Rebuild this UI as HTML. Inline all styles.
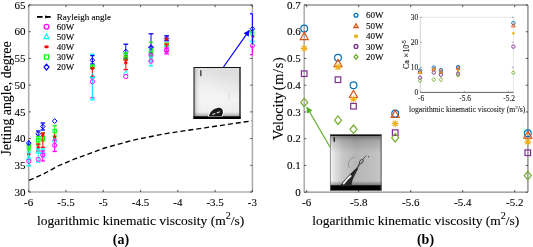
<!DOCTYPE html>
<html><head><meta charset="utf-8"><style>
html,body{margin:0;padding:0;background:#fff;width:533px;height:247px;overflow:hidden;position:relative}
</style></head><body>
<svg width="533" height="247" viewBox="0 0 533 247" style="position:absolute;left:0;top:0;font-family:'Liberation Serif', serif;will-change:transform">
<rect width="533" height="247" fill="#fff"/>
<line x1="28.7" y1="5.0" x2="252.4" y2="5.0" stroke="#606060" stroke-width="1.15"/>
<line x1="28.7" y1="192.0" x2="252.4" y2="192.0" stroke="#8a8a8a" stroke-width="1.2"/>
<line x1="28.7" y1="5.0" x2="28.7" y2="192.0" stroke="#aaa" stroke-width="1.5"/>
<line x1="252.4" y1="5.0" x2="252.4" y2="192.0" stroke="#aaa" stroke-width="1.5"/>
<line x1="28.7" y1="192.00" x2="30.9" y2="192.00" stroke="#333" stroke-width="0.8"/>
<line x1="250.20000000000002" y1="192.00" x2="252.4" y2="192.00" stroke="#333" stroke-width="0.8"/>
<text x="25.4" y="195.7" font-size="11" text-anchor="end" fill="#000" stroke="#000" stroke-width="0.1" >30</text>
<line x1="28.7" y1="165.29" x2="30.9" y2="165.29" stroke="#333" stroke-width="0.8"/>
<line x1="250.20000000000002" y1="165.29" x2="252.4" y2="165.29" stroke="#333" stroke-width="0.8"/>
<text x="25.4" y="168.98571428571427" font-size="11" text-anchor="end" fill="#000" stroke="#000" stroke-width="0.1" >35</text>
<line x1="28.7" y1="138.57" x2="30.9" y2="138.57" stroke="#333" stroke-width="0.8"/>
<line x1="250.20000000000002" y1="138.57" x2="252.4" y2="138.57" stroke="#333" stroke-width="0.8"/>
<text x="25.4" y="142.27142857142857" font-size="11" text-anchor="end" fill="#000" stroke="#000" stroke-width="0.1" >40</text>
<line x1="28.7" y1="111.86" x2="30.9" y2="111.86" stroke="#333" stroke-width="0.8"/>
<line x1="250.20000000000002" y1="111.86" x2="252.4" y2="111.86" stroke="#333" stroke-width="0.8"/>
<text x="25.4" y="115.55714285714286" font-size="11" text-anchor="end" fill="#000" stroke="#000" stroke-width="0.1" >45</text>
<line x1="28.7" y1="85.14" x2="30.9" y2="85.14" stroke="#333" stroke-width="0.8"/>
<line x1="250.20000000000002" y1="85.14" x2="252.4" y2="85.14" stroke="#333" stroke-width="0.8"/>
<text x="25.4" y="88.84285714285714" font-size="11" text-anchor="end" fill="#000" stroke="#000" stroke-width="0.1" >50</text>
<line x1="28.7" y1="58.43" x2="30.9" y2="58.43" stroke="#333" stroke-width="0.8"/>
<line x1="250.20000000000002" y1="58.43" x2="252.4" y2="58.43" stroke="#333" stroke-width="0.8"/>
<text x="25.4" y="62.12857142857143" font-size="11" text-anchor="end" fill="#000" stroke="#000" stroke-width="0.1" >55</text>
<line x1="28.7" y1="31.71" x2="30.9" y2="31.71" stroke="#333" stroke-width="0.8"/>
<line x1="250.20000000000002" y1="31.71" x2="252.4" y2="31.71" stroke="#333" stroke-width="0.8"/>
<text x="25.4" y="35.41428571428572" font-size="11" text-anchor="end" fill="#000" stroke="#000" stroke-width="0.1" >60</text>
<line x1="28.7" y1="5.00" x2="30.9" y2="5.00" stroke="#333" stroke-width="0.8"/>
<line x1="250.20000000000002" y1="5.00" x2="252.4" y2="5.00" stroke="#333" stroke-width="0.8"/>
<text x="25.4" y="8.7" font-size="11" text-anchor="end" fill="#000" stroke="#000" stroke-width="0.1" >65</text>
<line x1="28.70" y1="192.0" x2="28.70" y2="189.8" stroke="#333" stroke-width="0.8"/>
<line x1="28.70" y1="5.0" x2="28.70" y2="7.2" stroke="#333" stroke-width="0.8"/>
<text x="28.7" y="206.3" font-size="11" text-anchor="middle" fill="#000" stroke="#000" stroke-width="0.1" >-6</text>
<line x1="65.98" y1="192.0" x2="65.98" y2="189.8" stroke="#333" stroke-width="0.8"/>
<line x1="65.98" y1="5.0" x2="65.98" y2="7.2" stroke="#333" stroke-width="0.8"/>
<text x="65.98" y="206.3" font-size="11" text-anchor="middle" fill="#000" stroke="#000" stroke-width="0.1" >-5.5</text>
<line x1="103.27" y1="192.0" x2="103.27" y2="189.8" stroke="#333" stroke-width="0.8"/>
<line x1="103.27" y1="5.0" x2="103.27" y2="7.2" stroke="#333" stroke-width="0.8"/>
<text x="103.27" y="206.3" font-size="11" text-anchor="middle" fill="#000" stroke="#000" stroke-width="0.1" >-5</text>
<line x1="140.55" y1="192.0" x2="140.55" y2="189.8" stroke="#333" stroke-width="0.8"/>
<line x1="140.55" y1="5.0" x2="140.55" y2="7.2" stroke="#333" stroke-width="0.8"/>
<text x="140.55" y="206.3" font-size="11" text-anchor="middle" fill="#000" stroke="#000" stroke-width="0.1" >-4.5</text>
<line x1="177.83" y1="192.0" x2="177.83" y2="189.8" stroke="#333" stroke-width="0.8"/>
<line x1="177.83" y1="5.0" x2="177.83" y2="7.2" stroke="#333" stroke-width="0.8"/>
<text x="177.83" y="206.3" font-size="11" text-anchor="middle" fill="#000" stroke="#000" stroke-width="0.1" >-4</text>
<line x1="215.12" y1="192.0" x2="215.12" y2="189.8" stroke="#333" stroke-width="0.8"/>
<line x1="215.12" y1="5.0" x2="215.12" y2="7.2" stroke="#333" stroke-width="0.8"/>
<text x="215.12" y="206.3" font-size="11" text-anchor="middle" fill="#000" stroke="#000" stroke-width="0.1" >-3.5</text>
<line x1="252.40" y1="192.0" x2="252.40" y2="189.8" stroke="#333" stroke-width="0.8"/>
<line x1="252.40" y1="5.0" x2="252.40" y2="7.2" stroke="#333" stroke-width="0.8"/>
<text x="252.4" y="206.3" font-size="11" text-anchor="middle" fill="#000" stroke="#000" stroke-width="0.1" >-3</text>
<text x="37.1" y="225" font-size="13.5" text-anchor="start" fill="#000" stroke="#000" stroke-width="0.1" >logarithmic kinematic viscosity (m<tspan font-size="10" dy="-6">2</tspan><tspan dy="6">/s)</tspan></text>
<text x="121" y="243.6" font-size="14" text-anchor="middle" fill="#000" stroke="#000" stroke-width="0.1" font-weight="bold" style="stroke-width:0">(a)</text>
<text transform="translate(10.6,155.6) rotate(-90)" font-size="13.85" stroke="#000" stroke-width="0.1">Jetting angle, degree</text>
<path d="M29,180.3 L43,174.3 L58,166 L76,158.5 L104.6,148 L134.5,139.8 L167.5,133.3 L205,127.8 L252,120.8" fill="none" stroke="#000" stroke-width="1.35" stroke-dasharray="5 3"/>
<line x1="28.8" y1="144" x2="28.8" y2="150" stroke="#00ff00" stroke-width="1.0"/>
<line x1="26.8" y1="144" x2="30.8" y2="144" stroke="#00ff00" stroke-width="1.3"/>
<line x1="26.8" y1="150" x2="30.8" y2="150" stroke="#00ff00" stroke-width="1.3"/>
<rect x="27.10" y="144.80" width="3.4" height="3.4" fill="none" stroke="#00ff00" stroke-width="1.0"/>
<line x1="28.8" y1="140.5" x2="28.8" y2="145.5" stroke="#0000ff" stroke-width="1.0"/>
<line x1="28.8" y1="140.5" x2="28.8" y2="140.5" stroke="#0000ff" stroke-width="1.3"/>
<line x1="28.8" y1="145.5" x2="28.8" y2="145.5" stroke="#0000ff" stroke-width="1.3"/>
<polygon points="28.80,140.60 31.10,143.10 28.80,145.60 26.50,143.10" fill="none" stroke="#0000ff" stroke-width="1.0"/>
<line x1="28.8" y1="151" x2="28.8" y2="157" stroke="#ff0000" stroke-width="1.0"/>
<line x1="28.8" y1="151" x2="28.8" y2="151" stroke="#ff0000" stroke-width="1.3"/>
<line x1="28.8" y1="157" x2="28.8" y2="157" stroke="#ff0000" stroke-width="1.3"/>
<circle cx="28.80" cy="154.30" r="1.7" fill="#ff0000"/>
<line x1="28.8" y1="152" x2="28.8" y2="165.8" stroke="#00ffff" stroke-width="1.0"/>
<line x1="26.6" y1="152" x2="31.0" y2="152" stroke="#00ffff" stroke-width="1.3"/>
<line x1="26.6" y1="165.8" x2="31.0" y2="165.8" stroke="#00ffff" stroke-width="1.3"/>
<polygon points="28.80,155.32 31.10,159.46 26.50,159.46" fill="none" stroke="#00ffff" stroke-width="1.0" stroke-linejoin="miter"/>
<circle cx="28.80" cy="161.20" r="2.1" fill="none" stroke="#ff00ff" stroke-width="1.0"/>
<line x1="38.2" y1="131" x2="38.2" y2="136.5" stroke="#0000ff" stroke-width="1.0"/>
<line x1="36.0" y1="131" x2="40.400000000000006" y2="131" stroke="#0000ff" stroke-width="1.3"/>
<line x1="36.0" y1="136.5" x2="40.400000000000006" y2="136.5" stroke="#0000ff" stroke-width="1.3"/>
<polygon points="38.20,131.30 40.50,133.80 38.20,136.30 35.90,133.80" fill="none" stroke="#0000ff" stroke-width="1.0"/>
<line x1="38.2" y1="136.5" x2="38.2" y2="145" stroke="#00ff00" stroke-width="1.0"/>
<line x1="36.0" y1="136.5" x2="40.400000000000006" y2="136.5" stroke="#00ff00" stroke-width="1.3"/>
<line x1="36.0" y1="145" x2="40.400000000000006" y2="145" stroke="#00ff00" stroke-width="1.3"/>
<rect x="36.50" y="138.70" width="3.4" height="3.4" fill="none" stroke="#00ff00" stroke-width="1.0"/>
<line x1="38.2" y1="144" x2="38.2" y2="151" stroke="#ff0000" stroke-width="1.0"/>
<line x1="36.0" y1="144" x2="40.400000000000006" y2="144" stroke="#ff0000" stroke-width="1.3"/>
<line x1="36.0" y1="151" x2="40.400000000000006" y2="151" stroke="#ff0000" stroke-width="1.3"/>
<circle cx="38.20" cy="147.70" r="1.7" fill="#ff0000"/>
<line x1="38.2" y1="149" x2="38.2" y2="162" stroke="#00ffff" stroke-width="1.0"/>
<line x1="36.0" y1="149" x2="40.400000000000006" y2="149" stroke="#00ffff" stroke-width="1.3"/>
<line x1="36.0" y1="162" x2="40.400000000000006" y2="162" stroke="#00ffff" stroke-width="1.3"/>
<polygon points="38.20,149.02 40.50,153.16 35.90,153.16" fill="none" stroke="#00ffff" stroke-width="1.0" stroke-linejoin="miter"/>
<circle cx="38.20" cy="159.30" r="2.1" fill="none" stroke="#ff00ff" stroke-width="1.0"/>
<line x1="42.8" y1="123" x2="42.8" y2="130" stroke="#0000ff" stroke-width="1.0"/>
<line x1="40.599999999999994" y1="123" x2="45.0" y2="123" stroke="#0000ff" stroke-width="1.3"/>
<line x1="40.599999999999994" y1="130" x2="45.0" y2="130" stroke="#0000ff" stroke-width="1.3"/>
<polygon points="42.80,124.00 45.10,126.50 42.80,129.00 40.50,126.50" fill="none" stroke="#0000ff" stroke-width="1.0"/>
<line x1="42.8" y1="133" x2="42.8" y2="141" stroke="#00ff00" stroke-width="1.0"/>
<line x1="40.8" y1="133" x2="44.8" y2="133" stroke="#00ff00" stroke-width="1.3"/>
<line x1="40.8" y1="141" x2="44.8" y2="141" stroke="#00ff00" stroke-width="1.3"/>
<rect x="41.10" y="136.30" width="3.4" height="3.4" fill="none" stroke="#00ff00" stroke-width="1.0"/>
<line x1="42.8" y1="133" x2="42.8" y2="147.3" stroke="#ff0000" stroke-width="1.0"/>
<line x1="40.599999999999994" y1="133" x2="45.0" y2="133" stroke="#ff0000" stroke-width="1.3"/>
<line x1="40.599999999999994" y1="147.3" x2="45.0" y2="147.3" stroke="#ff0000" stroke-width="1.3"/>
<circle cx="42.80" cy="135.00" r="1.7" fill="#ff0000"/>
<line x1="42.8" y1="149" x2="42.8" y2="157" stroke="#00ffff" stroke-width="1.0"/>
<line x1="40.8" y1="149" x2="44.8" y2="149" stroke="#00ffff" stroke-width="1.3"/>
<line x1="40.8" y1="157" x2="44.8" y2="157" stroke="#00ffff" stroke-width="1.3"/>
<polygon points="42.80,149.52 45.10,153.66 40.50,153.66" fill="none" stroke="#00ffff" stroke-width="1.0" stroke-linejoin="miter"/>
<line x1="42.8" y1="151" x2="42.8" y2="161" stroke="#ff00ff" stroke-width="1.0"/>
<line x1="40.599999999999994" y1="151" x2="45.0" y2="151" stroke="#ff00ff" stroke-width="1.3"/>
<line x1="40.599999999999994" y1="161" x2="45.0" y2="161" stroke="#ff00ff" stroke-width="1.3"/>
<circle cx="42.80" cy="155.00" r="2.1" fill="none" stroke="#ff00ff" stroke-width="1.0"/>
<polygon points="54.70,118.60 57.00,121.10 54.70,123.60 52.40,121.10" fill="none" stroke="#0000ff" stroke-width="1.0"/>
<line x1="54.7" y1="125.7" x2="54.7" y2="136" stroke="#00ff00" stroke-width="1.0"/>
<line x1="52.5" y1="125.7" x2="56.900000000000006" y2="125.7" stroke="#00ff00" stroke-width="1.3"/>
<line x1="52.5" y1="136" x2="56.900000000000006" y2="136" stroke="#00ff00" stroke-width="1.3"/>
<rect x="53.00" y="129.40" width="3.4" height="3.4" fill="none" stroke="#00ff00" stroke-width="1.0"/>
<line x1="54.7" y1="134" x2="54.7" y2="142" stroke="#ff0000" stroke-width="1.0"/>
<line x1="54.7" y1="134" x2="54.7" y2="134" stroke="#ff0000" stroke-width="1.3"/>
<line x1="54.7" y1="142" x2="54.7" y2="142" stroke="#ff0000" stroke-width="1.3"/>
<circle cx="54.70" cy="137.50" r="1.7" fill="#ff0000"/>
<polygon points="54.70,137.92 57.00,142.06 52.40,142.06" fill="none" stroke="#00ffff" stroke-width="1.0" stroke-linejoin="miter"/>
<line x1="54.7" y1="140" x2="54.7" y2="151.5" stroke="#ff00ff" stroke-width="1.0"/>
<line x1="52.5" y1="140" x2="56.900000000000006" y2="140" stroke="#ff00ff" stroke-width="1.3"/>
<line x1="52.5" y1="151.5" x2="56.900000000000006" y2="151.5" stroke="#ff00ff" stroke-width="1.3"/>
<circle cx="54.70" cy="145.40" r="2.1" fill="none" stroke="#ff00ff" stroke-width="1.0"/>
<line x1="92.4" y1="78" x2="92.4" y2="97.8" stroke="#ff00ff" stroke-width="1.0"/>
<line x1="90.2" y1="78" x2="94.60000000000001" y2="78" stroke="#ff00ff" stroke-width="1.3"/>
<line x1="90.2" y1="97.8" x2="94.60000000000001" y2="97.8" stroke="#ff00ff" stroke-width="1.3"/>
<line x1="92.4" y1="54.2" x2="92.4" y2="99.8" stroke="#00ffff" stroke-width="1.0"/>
<line x1="90.2" y1="54.2" x2="94.60000000000001" y2="54.2" stroke="#00ffff" stroke-width="1.3"/>
<line x1="90.2" y1="99.8" x2="94.60000000000001" y2="99.8" stroke="#00ffff" stroke-width="1.3"/>
<line x1="92.4" y1="55.6" x2="92.4" y2="64" stroke="#0000ff" stroke-width="1.0"/>
<line x1="90.2" y1="55.6" x2="94.60000000000001" y2="55.6" stroke="#0000ff" stroke-width="1.3"/>
<line x1="90.2" y1="64" x2="94.60000000000001" y2="64" stroke="#0000ff" stroke-width="1.3"/>
<polygon points="92.40,57.80 94.70,60.30 92.40,62.80 90.10,60.30" fill="none" stroke="#0000ff" stroke-width="1.0"/>
<line x1="92.4" y1="65" x2="92.4" y2="69" stroke="#00ff00" stroke-width="1.0"/>
<line x1="90.60000000000001" y1="65" x2="94.2" y2="65" stroke="#00ff00" stroke-width="1.3"/>
<line x1="90.60000000000001" y1="69" x2="94.2" y2="69" stroke="#00ff00" stroke-width="1.3"/>
<rect x="90.70" y="65.30" width="3.4" height="3.4" fill="none" stroke="#00ff00" stroke-width="1.0"/>
<circle cx="92.40" cy="68.30" r="1.7" fill="#ff0000"/>
<line x1="92.4" y1="68" x2="92.4" y2="76.6" stroke="#ff0000" stroke-width="1.0"/>
<line x1="90.2" y1="68" x2="94.60000000000001" y2="68" stroke="#ff0000" stroke-width="1.3"/>
<line x1="90.2" y1="76.6" x2="94.60000000000001" y2="76.6" stroke="#ff0000" stroke-width="1.3"/>
<polygon points="92.40,73.52 94.70,77.66 90.10,77.66" fill="none" stroke="#00ffff" stroke-width="1.0" stroke-linejoin="miter"/>
<circle cx="92.40" cy="81.60" r="2.1" fill="none" stroke="#ff00ff" stroke-width="1.0"/>
<line x1="125.8" y1="44.2" x2="125.8" y2="58.5" stroke="#0000ff" stroke-width="1.0"/>
<line x1="123.39999999999999" y1="44.2" x2="128.2" y2="44.2" stroke="#0000ff" stroke-width="1.3"/>
<line x1="123.39999999999999" y1="58.5" x2="128.2" y2="58.5" stroke="#0000ff" stroke-width="1.3"/>
<polygon points="125.80,49.10 128.10,51.60 125.80,54.10 123.50,51.60" fill="none" stroke="#0000ff" stroke-width="1.0"/>
<rect x="124.10" y="52.80" width="3.4" height="3.4" fill="none" stroke="#00ff00" stroke-width="1.0"/>
<circle cx="125.80" cy="56.50" r="1.7" fill="#ff0000"/>
<line x1="125.8" y1="53" x2="125.8" y2="60" stroke="#00ff00" stroke-width="1.0"/>
<line x1="123.8" y1="53" x2="127.8" y2="53" stroke="#00ff00" stroke-width="1.3"/>
<line x1="123.8" y1="60" x2="127.8" y2="60" stroke="#00ff00" stroke-width="1.3"/>
<rect x="124.10" y="56.30" width="3.4" height="3.4" fill="none" stroke="#00ff00" stroke-width="1.0"/>
<line x1="125.8" y1="60" x2="125.8" y2="69.6" stroke="#ff0000" stroke-width="1.0"/>
<line x1="123.6" y1="60" x2="128.0" y2="60" stroke="#ff0000" stroke-width="1.3"/>
<line x1="123.6" y1="69.6" x2="128.0" y2="69.6" stroke="#ff0000" stroke-width="1.3"/>
<circle cx="125.80" cy="62.70" r="1.7" fill="#ff0000"/>
<polygon points="125.80,70.52 128.10,74.66 123.50,74.66" fill="none" stroke="#00ffff" stroke-width="1.0" stroke-linejoin="miter"/>
<circle cx="125.80" cy="76.50" r="2.1" fill="none" stroke="#ff00ff" stroke-width="1.0"/>
<line x1="151" y1="33.8" x2="151" y2="47" stroke="#0000ff" stroke-width="1.0"/>
<line x1="148.6" y1="33.8" x2="153.4" y2="33.8" stroke="#0000ff" stroke-width="1.3"/>
<line x1="148.6" y1="47" x2="153.4" y2="47" stroke="#0000ff" stroke-width="1.3"/>
<line x1="149" y1="42.2" x2="153" y2="42.2" stroke="#00ff00" stroke-width="1.3"/>
<polygon points="151.00,44.80 153.30,47.30 151.00,49.80 148.70,47.30" fill="none" stroke="#0000ff" stroke-width="1.0"/>
<rect x="149.30" y="48.80" width="3.4" height="3.4" fill="none" stroke="#00ff00" stroke-width="1.0"/>
<line x1="151" y1="48" x2="151" y2="56" stroke="#0000ff" stroke-width="1.0"/>
<line x1="151" y1="48" x2="151" y2="48" stroke="#0000ff" stroke-width="1.3"/>
<line x1="151" y1="56" x2="151" y2="56" stroke="#0000ff" stroke-width="1.3"/>
<rect x="149.30" y="51.80" width="3.4" height="3.4" fill="none" stroke="#00ff00" stroke-width="1.0"/>
<circle cx="151.00" cy="55.00" r="2.1" fill="none" stroke="#ff00ff" stroke-width="1.0"/>
<circle cx="151.00" cy="57.40" r="1.7" fill="#ff0000"/>
<line x1="151" y1="57" x2="151" y2="65.8" stroke="#00ffff" stroke-width="1.0"/>
<line x1="148.8" y1="57" x2="153.2" y2="57" stroke="#00ffff" stroke-width="1.3"/>
<line x1="148.8" y1="65.8" x2="153.2" y2="65.8" stroke="#00ffff" stroke-width="1.3"/>
<polygon points="151.00,57.22 153.30,61.36 148.70,61.36" fill="none" stroke="#00ffff" stroke-width="1.0" stroke-linejoin="miter"/>
<circle cx="151.00" cy="61.20" r="2.1" fill="none" stroke="#ff00ff" stroke-width="1.0"/>
<line x1="166.6" y1="35.8" x2="166.6" y2="40.8" stroke="#0000ff" stroke-width="1.0"/>
<line x1="164.2" y1="35.8" x2="169.0" y2="35.8" stroke="#0000ff" stroke-width="1.3"/>
<line x1="164.2" y1="40.8" x2="169.0" y2="40.8" stroke="#0000ff" stroke-width="1.3"/>
<polygon points="166.60,36.00 168.90,38.50 166.60,41.00 164.30,38.50" fill="none" stroke="#0000ff" stroke-width="1.0"/>
<circle cx="166.60" cy="39.00" r="1.7" fill="#ff0000"/>
<rect x="164.90" y="42.90" width="3.4" height="3.4" fill="none" stroke="#00ff00" stroke-width="1.0"/>
<circle cx="166.60" cy="46.00" r="1.7" fill="#ff0000"/>
<line x1="166.6" y1="46" x2="166.6" y2="50" stroke="#00ffff" stroke-width="1.0"/>
<line x1="164.6" y1="46" x2="168.6" y2="46" stroke="#00ffff" stroke-width="1.3"/>
<line x1="164.6" y1="50" x2="168.6" y2="50" stroke="#00ffff" stroke-width="1.3"/>
<polygon points="166.60,46.02 168.90,50.16 164.30,50.16" fill="none" stroke="#00ffff" stroke-width="1.0" stroke-linejoin="miter"/>
<line x1="166.6" y1="44" x2="166.6" y2="51.6" stroke="#ff0000" stroke-width="1.0"/>
<line x1="164.4" y1="44" x2="168.79999999999998" y2="44" stroke="#ff0000" stroke-width="1.3"/>
<line x1="164.4" y1="51.6" x2="168.79999999999998" y2="51.6" stroke="#ff0000" stroke-width="1.3"/>
<line x1="166.6" y1="48" x2="166.6" y2="53.9" stroke="#ff00ff" stroke-width="1.0"/>
<line x1="164.2" y1="48" x2="169.0" y2="48" stroke="#ff00ff" stroke-width="1.3"/>
<line x1="164.2" y1="53.9" x2="169.0" y2="53.9" stroke="#ff00ff" stroke-width="1.3"/>
<circle cx="166.60" cy="50.50" r="2.1" fill="none" stroke="#ff00ff" stroke-width="1.0"/>
<rect x="251.00" y="29.80" width="2.8" height="2.8" fill="none" stroke="#00ff00" stroke-width="0.9"/>
<rect x="251.00" y="32.80" width="2.8" height="2.8" fill="none" stroke="#00ff00" stroke-width="0.9"/>
<circle cx="253.00" cy="36.60" r="1.4" fill="#ff0000"/>
<polygon points="252.40,38.24 254.40,41.84 250.40,41.84" fill="none" stroke="#00ffff" stroke-width="1.0" stroke-linejoin="miter"/>
<circle cx="252.40" cy="45.60" r="2.0" fill="none" stroke="#ff00ff" stroke-width="1.0"/>
<line x1="252.4" y1="46" x2="252.4" y2="54.7" stroke="#f0f" stroke-width="1.1"/>
<line x1="250" y1="54.7" x2="252.4" y2="54.7" stroke="#f0f" stroke-width="1.3"/>
<line x1="252.4" y1="13.8" x2="252.4" y2="44" stroke="#00f" stroke-width="1.0"/>
<line x1="250" y1="13.8" x2="252.4" y2="13.8" stroke="#00f" stroke-width="1.3"/>
<polygon points="252.40,26.40 254.70,28.70 252.40,31.00 250.10,28.70" fill="none" stroke="#0000ff" stroke-width="1.0"/>
<line x1="37" y1="16.9" x2="42.6" y2="16.9" stroke="#000" stroke-width="1.8"/>
<line x1="45.1" y1="16.9" x2="50.7" y2="16.9" stroke="#000" stroke-width="1.8"/>
<polygon points="45.3,15.2 49,16.9 45.3,18.6" fill="#000"/>
<text x="56.8" y="20.1" font-size="9" text-anchor="start" fill="#000" stroke="#000" stroke-width="0.1" >Rayleigh angle</text>
<circle cx="46.50" cy="26.70" r="2.4" fill="none" stroke="#ff00ff" stroke-width="1.2"/>
<polygon points="46.50,33.99 49.10,38.67 43.90,38.67" fill="none" stroke="#00ffff" stroke-width="1.2" stroke-linejoin="miter"/>
<rect x="44.3" y="45.6" width="4.4" height="2.6" rx="1.1" fill="#ff0000"/>
<rect x="44.40" y="54.90" width="4.2" height="4.2" fill="none" stroke="#00ff00" stroke-width="1.2"/>
<polygon points="46.50,64.20 49.00,67.10 46.50,70.00 44.00,67.10" fill="none" stroke="#0000ff" stroke-width="1.2"/>
<text x="56.8" y="29.9" font-size="9" text-anchor="start" fill="#000" stroke="#000" stroke-width="0.1" >60W</text>
<text x="56.8" y="40.0" font-size="9" text-anchor="start" fill="#000" stroke="#000" stroke-width="0.1" >50W</text>
<text x="56.8" y="50.1" font-size="9" text-anchor="start" fill="#000" stroke="#000" stroke-width="0.1" >40W</text>
<text x="56.8" y="60.2" font-size="9" text-anchor="start" fill="#000" stroke="#000" stroke-width="0.1" >30W</text>
<text x="56.8" y="70.3" font-size="9" text-anchor="start" fill="#000" stroke="#000" stroke-width="0.1" >20W</text>
<defs>
<linearGradient id="ga" x1="0.3" y1="0" x2="0" y2="1">
<stop offset="0" stop-color="#dedede"/><stop offset="0.4" stop-color="#f2f2f2"/><stop offset="1" stop-color="#fcfcfc"/>
</linearGradient>
<linearGradient id="gaL" x1="0" y1="0" x2="1" y2="0">
<stop offset="0" stop-color="#808080" stop-opacity="0.7"/><stop offset="0.08" stop-color="#c0c0c0" stop-opacity="0.3"/><stop offset="0.2" stop-color="#fff" stop-opacity="0"/>
</linearGradient>
<linearGradient id="gaB" x1="0" y1="0" x2="0" y2="1">
<stop offset="0" stop-color="#000" stop-opacity="0"/><stop offset="0.75" stop-color="#000" stop-opacity="0.04"/><stop offset="1" stop-color="#000" stop-opacity="0.3"/>
</linearGradient>
<linearGradient id="gb" x1="0" y1="0" x2="1" y2="0">
<stop offset="0" stop-color="#fafafa"/><stop offset="0.07" stop-color="#e4e4e4"/><stop offset="0.25" stop-color="#c6c6c6"/><stop offset="0.5" stop-color="#b6b6b6"/><stop offset="0.8" stop-color="#bebebe"/><stop offset="1" stop-color="#c6c6c6"/>
</linearGradient>
<linearGradient id="gbT" x1="0" y1="0" x2="0" y2="1">
<stop offset="0" stop-color="#000" stop-opacity="0.45"/><stop offset="0.12" stop-color="#000" stop-opacity="0.15"/><stop offset="0.35" stop-color="#000" stop-opacity="0"/><stop offset="0.9" stop-color="#000" stop-opacity="0"/><stop offset="1" stop-color="#000" stop-opacity="0.45"/>
</linearGradient>
<marker id="ah" viewBox="0 0 10 10" refX="9" refY="5" markerWidth="5.2" markerHeight="5.2" orient="auto"><path d="M0,0 L10,5 L0,10 z" fill="#00f"/></marker>
<marker id="ahg" viewBox="0 0 10 10" refX="9" refY="5" markerWidth="5.2" markerHeight="5.2" orient="auto"><path d="M0,0 L10,5 L0,10 z" fill="#4fae1f"/></marker>
</defs>
<rect x="193.5" y="67" width="47" height="52" fill="url(#ga)"/>
<rect x="193.5" y="67" width="47" height="52" fill="url(#gaL)"/>
<rect x="193.5" y="100" width="47" height="16" fill="url(#gaB)"/>
<line x1="193.5" y1="67.5" x2="240.5" y2="67.5" stroke="#111" stroke-width="1.1"/>
<line x1="240" y1="67" x2="240" y2="119" stroke="#111" stroke-width="1.3"/>
<line x1="194.1" y1="67" x2="194.1" y2="119" stroke="#505050" stroke-width="1.3"/>
<rect x="193.5" y="116.2" width="47" height="2.8" fill="#000"/>
<path d="M207.8,116.5 C208.5,112 212.5,107.6 217.5,106.9 C222,106.4 224.4,109 223.9,112.5 C223.6,114.4 222.8,116 222.3,116.5 Z" fill="#fbfbfb"/>
<path d="M208.9,116.3 C209.5,112.5 213,108.6 217.5,107.9 C221.3,107.4 223.2,109.5 222.9,112.5 C222.7,114 222,115.5 221.5,116.3 Z" fill="#181818"/>
<path d="M212.3,114.6 L215.3,113.4 M216.8,113 L219.8,111.8" stroke="#e8e8e8" stroke-width="1.1"/>
<path d="M228,92 C230,94 230,98 228,100" stroke="#ccc" stroke-width="0.6" fill="none"/>
<rect x="200.2" y="70.2" width="1.3" height="6" fill="#333"/>
<line x1="223.5" y1="67" x2="249.3" y2="30.4" stroke="#00f" stroke-width="1.2" marker-end="url(#ah)"/>
<line x1="304.2" y1="5.0" x2="527.9" y2="5.0" stroke="#606060" stroke-width="1.15"/>
<line x1="304.2" y1="192.2" x2="527.9" y2="192.2" stroke="#8a8a8a" stroke-width="1.2"/>
<line x1="304.2" y1="5.0" x2="304.2" y2="192.2" stroke="#aaa" stroke-width="1.5"/>
<line x1="527.9" y1="5.0" x2="527.9" y2="192.2" stroke="#999" stroke-width="1.6"/>
<line x1="304.2" y1="192.20" x2="306.4" y2="192.20" stroke="#333" stroke-width="0.8"/>
<line x1="525.6999999999999" y1="192.20" x2="527.9" y2="192.20" stroke="#333" stroke-width="0.8"/>
<text x="300.8" y="195.89999999999998" font-size="11" text-anchor="end" fill="#000" stroke="#000" stroke-width="0.1" >0</text>
<line x1="304.2" y1="165.46" x2="306.4" y2="165.46" stroke="#333" stroke-width="0.8"/>
<line x1="525.6999999999999" y1="165.46" x2="527.9" y2="165.46" stroke="#333" stroke-width="0.8"/>
<text x="300.8" y="169.15714285714284" font-size="11" text-anchor="end" fill="#000" stroke="#000" stroke-width="0.1" >0.1</text>
<line x1="304.2" y1="138.71" x2="306.4" y2="138.71" stroke="#333" stroke-width="0.8"/>
<line x1="525.6999999999999" y1="138.71" x2="527.9" y2="138.71" stroke="#333" stroke-width="0.8"/>
<text x="300.8" y="142.41428571428568" font-size="11" text-anchor="end" fill="#000" stroke="#000" stroke-width="0.1" >0.2</text>
<line x1="304.2" y1="111.97" x2="306.4" y2="111.97" stroke="#333" stroke-width="0.8"/>
<line x1="525.6999999999999" y1="111.97" x2="527.9" y2="111.97" stroke="#333" stroke-width="0.8"/>
<text x="300.8" y="115.67142857142858" font-size="11" text-anchor="end" fill="#000" stroke="#000" stroke-width="0.1" >0.3</text>
<line x1="304.2" y1="85.23" x2="306.4" y2="85.23" stroke="#333" stroke-width="0.8"/>
<line x1="525.6999999999999" y1="85.23" x2="527.9" y2="85.23" stroke="#333" stroke-width="0.8"/>
<text x="300.8" y="88.92857142857142" font-size="11" text-anchor="end" fill="#000" stroke="#000" stroke-width="0.1" >0.4</text>
<line x1="304.2" y1="58.49" x2="306.4" y2="58.49" stroke="#333" stroke-width="0.8"/>
<line x1="525.6999999999999" y1="58.49" x2="527.9" y2="58.49" stroke="#333" stroke-width="0.8"/>
<text x="300.8" y="62.185714285714276" font-size="11" text-anchor="end" fill="#000" stroke="#000" stroke-width="0.1" >0.5</text>
<line x1="304.2" y1="31.74" x2="306.4" y2="31.74" stroke="#333" stroke-width="0.8"/>
<line x1="525.6999999999999" y1="31.74" x2="527.9" y2="31.74" stroke="#333" stroke-width="0.8"/>
<text x="300.8" y="35.442857142857136" font-size="11" text-anchor="end" fill="#000" stroke="#000" stroke-width="0.1" >0.6</text>
<line x1="304.2" y1="5.00" x2="306.4" y2="5.00" stroke="#333" stroke-width="0.8"/>
<line x1="525.6999999999999" y1="5.00" x2="527.9" y2="5.00" stroke="#333" stroke-width="0.8"/>
<text x="300.8" y="8.7" font-size="11" text-anchor="end" fill="#000" stroke="#000" stroke-width="0.1" >0.7</text>
<line x1="306.70" y1="192.2" x2="306.70" y2="190.0" stroke="#333" stroke-width="0.8"/>
<line x1="306.70" y1="5.0" x2="306.70" y2="7.2" stroke="#333" stroke-width="0.8"/>
<text x="306.7" y="206.3" font-size="11" text-anchor="middle" fill="#000" stroke="#000" stroke-width="0.1" >-6</text>
<line x1="358.70" y1="192.2" x2="358.70" y2="190.0" stroke="#333" stroke-width="0.8"/>
<line x1="358.70" y1="5.0" x2="358.70" y2="7.2" stroke="#333" stroke-width="0.8"/>
<text x="358.7" y="206.3" font-size="11" text-anchor="middle" fill="#000" stroke="#000" stroke-width="0.1" >-5.8</text>
<line x1="410.70" y1="192.2" x2="410.70" y2="190.0" stroke="#333" stroke-width="0.8"/>
<line x1="410.70" y1="5.0" x2="410.70" y2="7.2" stroke="#333" stroke-width="0.8"/>
<text x="410.7" y="206.3" font-size="11" text-anchor="middle" fill="#000" stroke="#000" stroke-width="0.1" >-5.6</text>
<line x1="462.70" y1="192.2" x2="462.70" y2="190.0" stroke="#333" stroke-width="0.8"/>
<line x1="462.70" y1="5.0" x2="462.70" y2="7.2" stroke="#333" stroke-width="0.8"/>
<text x="462.7" y="206.3" font-size="11" text-anchor="middle" fill="#000" stroke="#000" stroke-width="0.1" >-5.4</text>
<line x1="514.70" y1="192.2" x2="514.70" y2="190.0" stroke="#333" stroke-width="0.8"/>
<line x1="514.70" y1="5.0" x2="514.70" y2="7.2" stroke="#333" stroke-width="0.8"/>
<text x="514.7" y="206.3" font-size="11" text-anchor="middle" fill="#000" stroke="#000" stroke-width="0.1" >-5.2</text>
<text x="312.2" y="224.8" font-size="13.5" text-anchor="start" fill="#000" stroke="#000" stroke-width="0.1" >logarithmic kinematic viscosity (m<tspan font-size="10" dy="-6">2</tspan><tspan dy="6">/s)</tspan></text>
<text x="425.5" y="243.6" font-size="14" text-anchor="middle" fill="#000" stroke="#000" stroke-width="0.1" font-weight="bold" style="stroke-width:0">(b)</text>
<text transform="translate(283,140) rotate(-90)" font-size="14.3" stroke="#000" stroke-width="0.1">Velocity <tspan dx="-1.5" letter-spacing="0.7">(m/s)</tspan></text>
<rect x="330" y="134.6" width="51.5" height="51.5" fill="url(#gb)"/>
<rect x="330" y="134.6" width="51.5" height="51.5" fill="url(#gbT)"/>
<rect x="330" y="185.3" width="51.5" height="5.3" fill="#000"/>
<line x1="330" y1="135.2" x2="381.5" y2="135.2" stroke="#111" stroke-width="1.5"/>
<line x1="330.4" y1="134.6" x2="330.4" y2="190.6" stroke="#777" stroke-width="0.8"/>
<line x1="381.1" y1="134.6" x2="381.1" y2="190.6" stroke="#555" stroke-width="1"/>
<path d="M339.8,186.3 L342.8,182 L346.8,177.5 L351.2,173 L354.8,169.5 L357.2,167.4 L358.3,168.6 L356.6,171.5 L354.6,175.5 L352.6,180 L351.2,186.3 Z" fill="#262626"/>
<path d="M356.8,168.6 C358,166.8 358.8,165.2 359.8,163.6" stroke="#444" stroke-width="1.3" fill="none"/>
<ellipse cx="361.3" cy="161.6" rx="1.3" ry="2.6" transform="rotate(40 361.3 161.6)" fill="none" stroke="#4a4a4a" stroke-width="1"/>
<path d="M362.8,159.4 L366.2,155.6" stroke="#555" stroke-width="1" fill="none"/>
<path d="M343.6,183.6 L347.3,179.2 L350.6,176" stroke="#f2f2f2" stroke-width="1.8" fill="none" stroke-linecap="round"/>
<path d="M349.2,167.5 C347,163.5 349.5,158.5 354.5,157" stroke="#858585" stroke-width="0.7" fill="none"/>
<circle cx="368.5" cy="156.8" r="0.7" fill="#555"/>
<rect x="333.6" y="137.2" width="1.3" height="4.5" fill="#111"/>
<line x1="330" y1="147" x2="306.9" y2="107.3" stroke="#5fae2f" stroke-width="1.2" marker-end="url(#ahg)"/>
<circle cx="304.20" cy="28.60" r="3.4" fill="none" stroke="#0072bd" stroke-width="1.2"/>
<polygon points="304.20,32.38 308.20,39.58 300.20,39.58" fill="none" stroke="#d95319" stroke-width="1.2" stroke-linejoin="miter"/>
<path d="M300.70,48.30L307.70,48.30M301.73,45.83L306.67,50.77M304.20,44.80L304.20,51.80M306.67,45.83L301.73,50.77" stroke="#edb120" stroke-width="1.2" fill="none"/>
<rect x="301.40" y="70.90" width="5.6" height="5.6" fill="none" stroke="#7e2f8e" stroke-width="1.2"/>
<polygon points="304.20,98.10 307.70,102.40 304.20,106.70 300.70,102.40" fill="none" stroke="#77ac30" stroke-width="1.2"/>
<circle cx="338.00" cy="57.70" r="3.4" fill="none" stroke="#0072bd" stroke-width="1.2"/>
<polygon points="338.00,59.38 342.00,66.58 334.00,66.58" fill="none" stroke="#d95319" stroke-width="1.2" stroke-linejoin="miter"/>
<path d="M334.50,67.00L341.50,67.00M335.53,64.53L340.47,69.47M338.00,63.50L338.00,70.50M340.47,64.53L335.53,69.47" stroke="#edb120" stroke-width="1.2" fill="none"/>
<rect x="335.20" y="76.90" width="5.6" height="5.6" fill="none" stroke="#7e2f8e" stroke-width="1.2"/>
<polygon points="338.00,115.90 341.50,120.20 338.00,124.50 334.50,120.20" fill="none" stroke="#77ac30" stroke-width="1.2"/>
<circle cx="353.50" cy="85.30" r="3.4" fill="none" stroke="#0072bd" stroke-width="1.2"/>
<polygon points="353.50,90.28 357.50,97.48 349.50,97.48" fill="none" stroke="#d95319" stroke-width="1.2" stroke-linejoin="miter"/>
<path d="M350.00,99.10L357.00,99.10M351.03,96.63L355.97,101.57M353.50,95.60L353.50,102.60M355.97,96.63L351.03,101.57" stroke="#edb120" stroke-width="1.2" fill="none"/>
<rect x="350.70" y="103.40" width="5.6" height="5.6" fill="none" stroke="#7e2f8e" stroke-width="1.2"/>
<polygon points="353.50,125.00 357.00,129.30 353.50,133.60 350.00,129.30" fill="none" stroke="#77ac30" stroke-width="1.2"/>
<circle cx="395.20" cy="113.60" r="3.4" fill="none" stroke="#0072bd" stroke-width="1.2"/>
<polygon points="395.20,110.28 399.20,117.48 391.20,117.48" fill="none" stroke="#d95319" stroke-width="1.2" stroke-linejoin="miter"/>
<path d="M391.70,123.70L398.70,123.70M392.73,121.23L397.67,126.17M395.20,120.20L395.20,127.20M397.67,121.23L392.73,126.17" stroke="#edb120" stroke-width="1.2" fill="none"/>
<rect x="392.40" y="129.80" width="5.6" height="5.6" fill="none" stroke="#7e2f8e" stroke-width="1.2"/>
<polygon points="395.20,133.40 398.70,137.70 395.20,142.00 391.70,137.70" fill="none" stroke="#77ac30" stroke-width="1.2"/>
<circle cx="527.80" cy="133.20" r="3.4" fill="none" stroke="#0072bd" stroke-width="1.2"/>
<polygon points="527.80,130.88 531.80,138.08 523.80,138.08" fill="none" stroke="#d95319" stroke-width="1.2" stroke-linejoin="miter"/>
<path d="M524.30,141.80L531.30,141.80M525.33,139.33L530.27,144.27M527.80,138.30L527.80,145.30M530.27,139.33L525.33,144.27" stroke="#edb120" stroke-width="1.2" fill="none"/>
<rect x="525.00" y="149.90" width="5.6" height="5.6" fill="none" stroke="#7e2f8e" stroke-width="1.2"/>
<polygon points="527.80,171.30 531.30,175.60 527.80,179.90 524.30,175.60" fill="none" stroke="#77ac30" stroke-width="1.2"/>
<circle cx="356.00" cy="15.30" r="1.9" fill="none" stroke="#0072bd" stroke-width="1.3"/>
<polygon points="356.00,23.73 358.10,27.51 353.90,27.51" fill="none" stroke="#d95319" stroke-width="1.3" stroke-linejoin="miter"/>
<circle cx="356.00" cy="36.30" r="2.0" fill="#edb120"/>
<circle cx="356.00" cy="46.40" r="1.9" fill="none" stroke="#7e2f8e" stroke-width="1.3"/>
<polygon points="356.00,54.60 358.00,56.90 356.00,59.20 354.00,56.90" fill="none" stroke="#77ac30" stroke-width="1.3"/>
<text x="366.1" y="18.400000000000002" font-size="9" text-anchor="start" fill="#000" stroke="#000" stroke-width="0.1" >60W</text>
<text x="366.1" y="29.1" font-size="9" text-anchor="start" fill="#000" stroke="#000" stroke-width="0.1" >50W</text>
<text x="366.1" y="39.4" font-size="9" text-anchor="start" fill="#000" stroke="#000" stroke-width="0.1" >40W</text>
<text x="366.1" y="49.5" font-size="9" text-anchor="start" fill="#000" stroke="#000" stroke-width="0.1" >30W</text>
<text x="366.1" y="60.0" font-size="9" text-anchor="start" fill="#000" stroke="#000" stroke-width="0.1" >20W</text>
<rect x="420.3" y="17.3" width="93.09999999999997" height="75.10000000000001" fill="none" stroke="#e6e6e6" stroke-width="1"/>
<line x1="420.3" y1="92.4" x2="513.4" y2="92.4" stroke="#555" stroke-width="0.9"/>
<line x1="420.3" y1="17.3" x2="420.3" y2="92.4" stroke="#ddd" stroke-width="1"/>
<line x1="420.3" y1="92.40" x2="421.8" y2="92.40" stroke="#777" stroke-width="0.7"/>
<line x1="511.9" y1="92.40" x2="513.4" y2="92.40" stroke="#777" stroke-width="0.7"/>
<text x="418.2" y="95.0" font-size="7.4" text-anchor="end" fill="#222" stroke="#222" stroke-width="0.1" >0</text>
<line x1="420.3" y1="67.37" x2="421.8" y2="67.37" stroke="#777" stroke-width="0.7"/>
<line x1="511.9" y1="67.37" x2="513.4" y2="67.37" stroke="#777" stroke-width="0.7"/>
<text x="418.2" y="69.96666666666667" font-size="7.4" text-anchor="end" fill="#222" stroke="#222" stroke-width="0.1" >10</text>
<line x1="420.3" y1="42.33" x2="421.8" y2="42.33" stroke="#777" stroke-width="0.7"/>
<line x1="511.9" y1="42.33" x2="513.4" y2="42.33" stroke="#777" stroke-width="0.7"/>
<text x="418.2" y="44.93333333333334" font-size="7.4" text-anchor="end" fill="#222" stroke="#222" stroke-width="0.1" >20</text>
<line x1="420.3" y1="17.30" x2="421.8" y2="17.30" stroke="#777" stroke-width="0.7"/>
<line x1="511.9" y1="17.30" x2="513.4" y2="17.30" stroke="#777" stroke-width="0.7"/>
<text x="418.2" y="19.9" font-size="7.4" text-anchor="end" fill="#222" stroke="#222" stroke-width="0.1" >30</text>
<line x1="420.4" y1="92.4" x2="420.4" y2="90.9" stroke="#777" stroke-width="0.7"/>
<text x="421.2" y="101.2" font-size="7.4" text-anchor="middle" fill="#222" stroke="#222" stroke-width="0.1" >-6</text>
<line x1="464.4" y1="92.4" x2="464.4" y2="90.9" stroke="#777" stroke-width="0.7"/>
<text x="465.2" y="101.2" font-size="7.4" text-anchor="middle" fill="#222" stroke="#222" stroke-width="0.1" >-5.6</text>
<line x1="508.4" y1="92.4" x2="508.4" y2="90.9" stroke="#777" stroke-width="0.7"/>
<text x="509.2" y="101.2" font-size="7.4" text-anchor="middle" fill="#222" stroke="#222" stroke-width="0.1" >-5.2</text>
<text x="409.1" y="111.5" font-size="7.6" text-anchor="start" fill="#222" stroke="#222" stroke-width="0.1" >logarithmic kinematic viscosity (m<tspan font-size="5" dy="-3">2</tspan><tspan dy="3">/s)</tspan></text>
<text transform="translate(409,69) rotate(-90)" font-size="7.8" fill="#222" stroke="#222" stroke-width="0.15">Ca<tspan x="11.6">×</tspan><tspan x="16.4">10</tspan><tspan x="24.2" dy="-3.2" font-size="5.5">-5</tspan></text>
<circle cx="420.10" cy="70.60" r="1.75" fill="none" stroke="#0072bd" stroke-width="0.9"/>
<polygon points="420.10,69.95 422.00,73.37 418.20,73.37" fill="none" stroke="#d95319" stroke-width="0.9" stroke-linejoin="miter"/>
<circle cx="420.10" cy="73.00" r="1.3" fill="#edb120"/>
<circle cx="420.10" cy="77.70" r="1.7" fill="none" stroke="#7e2f8e" stroke-width="0.9"/>
<polygon points="420.10,78.60 421.85,80.70 420.10,82.80 418.35,80.70" fill="none" stroke="#77ac30" stroke-width="0.9"/>
<circle cx="433.80" cy="67.60" r="1.75" fill="none" stroke="#0072bd" stroke-width="0.9"/>
<polygon points="433.80,66.95 435.70,70.37 431.90,70.37" fill="none" stroke="#d95319" stroke-width="0.9" stroke-linejoin="miter"/>
<circle cx="433.80" cy="70.00" r="1.3" fill="#edb120"/>
<circle cx="433.80" cy="72.60" r="1.7" fill="none" stroke="#7e2f8e" stroke-width="0.9"/>
<polygon points="433.80,77.60 435.55,79.70 433.80,81.80 432.05,79.70" fill="none" stroke="#77ac30" stroke-width="0.9"/>
<circle cx="440.90" cy="70.10" r="1.75" fill="none" stroke="#0072bd" stroke-width="0.9"/>
<polygon points="440.90,69.45 442.80,72.87 439.00,72.87" fill="none" stroke="#d95319" stroke-width="0.9" stroke-linejoin="miter"/>
<circle cx="440.90" cy="73.00" r="1.3" fill="#edb120"/>
<circle cx="440.90" cy="74.70" r="1.7" fill="none" stroke="#7e2f8e" stroke-width="0.9"/>
<polygon points="440.90,77.60 442.65,79.70 440.90,81.80 439.15,79.70" fill="none" stroke="#77ac30" stroke-width="0.9"/>
<circle cx="458.10" cy="67.10" r="1.75" fill="none" stroke="#0072bd" stroke-width="0.9"/>
<polygon points="458.10,65.95 460.00,69.37 456.20,69.37" fill="none" stroke="#d95319" stroke-width="0.9" stroke-linejoin="miter"/>
<circle cx="458.10" cy="71.00" r="1.3" fill="#edb120"/>
<circle cx="458.10" cy="73.80" r="1.7" fill="none" stroke="#7e2f8e" stroke-width="0.9"/>
<polygon points="458.10,73.10 459.85,75.20 458.10,77.30 456.35,75.20" fill="none" stroke="#77ac30" stroke-width="0.9"/>
<circle cx="513.40" cy="23.10" r="1.75" fill="none" stroke="#0072bd" stroke-width="0.9"/>
<polygon points="513.40,23.55 515.30,26.97 511.50,26.97" fill="none" stroke="#d95319" stroke-width="0.9" stroke-linejoin="miter"/>
<circle cx="513.40" cy="33.20" r="1.3" fill="#edb120"/>
<circle cx="513.40" cy="46.60" r="1.7" fill="none" stroke="#7e2f8e" stroke-width="0.9"/>
<polygon points="513.40,70.60 515.15,72.70 513.40,74.80 511.65,72.70" fill="none" stroke="#77ac30" stroke-width="0.9"/>
</svg>
</body></html>
